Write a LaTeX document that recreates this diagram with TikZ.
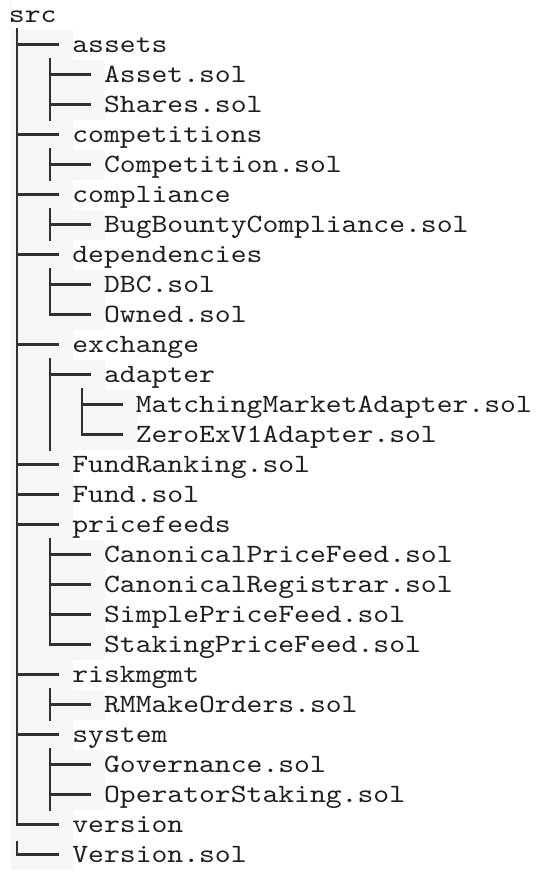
\documentclass[tikz,border=0pt]{standalone}
\usepackage{fontspec}
\newfontfamily\codefont[FakeStretch=1.143]{lmmono10-regular.otf}
\usetikzlibrary{backgrounds}
\definecolor{rowbg}{HTML}{F6F6F6}
\definecolor{ink}{HTML}{1E1E1E}
\definecolor{treeline}{HTML}{303030}
\newlength\entryw
\newcommand\codefnt{\codefont\fontsize{26.4}{30}\selectfont}
% #1 node name, #2 row, #3 x, #4 stem (highlighted), #5 extension
\newcommand\entry[5]{%
  \settowidth{\entryw}{\codefnt #4}%
  \node[entry] (#1) at (#3,{-22-30*#2}) {#4#5};
  \begin{pgfonlayer}{background}
    \fill[rowbg] (11,{-30*#2+0.5}) rectangle ([xshift=\entryw+1pt,yshift=-7.5pt]#1.base west);
  \end{pgfonlayer}%
}
% horizontal branch: #1 node, #2 level
\newcommand\branch[2]{\draw[tree] (#1.west -| v#2) -- (#1.west -| h#2);}
\begin{document}
\begin{tikzpicture}[x=1pt,y=1pt,
  entry/.style={anchor=base west,inner sep=0pt,outer sep=0pt,font=\codefnt,
    text=ink,text height=22.5pt,text depth=7.5pt},
  tree/.style={draw=treeline,line width=2.2pt,line cap=rect}]
\useasboundingbox (0,0) rectangle (550,-876);
\coordinate (v1) at (17,0);  \coordinate (h1) at (58,0);
\coordinate (v2) at (50,0);  \coordinate (h2) at (90,0);
\coordinate (v3) at (82,0);  \coordinate (h3) at (122,0);
\def\xa{9}\def\xb{72.4}\def\xc{104.1}\def\xd{135.8}
\entry{src}{0}{\xa}{src}{}
\entry{assets}{1}{\xb}{assets}{}
\entry{asset}{2}{\xc}{Asset}{.sol}
\entry{shares}{3}{\xc}{Shares}{.sol}
\entry{competitions}{4}{\xb}{competitions}{}
\entry{competition}{5}{\xc}{Competition}{.sol}
\entry{compliance}{6}{\xb}{compliance}{}
\entry{bugbounty}{7}{\xc}{BugBountyCompliance}{.sol}
\entry{dependencies}{8}{\xb}{dependencies}{}
\entry{dbc}{9}{\xc}{DBC}{.sol}
\entry{owned}{10}{\xc}{Owned}{.sol}
\entry{exchange}{11}{\xb}{exchange}{}
\entry{adapter}{12}{\xc}{adapter}{}
\entry{matching}{13}{\xd}{MatchingMarketAdapter}{.sol}
\entry{zeroex}{14}{\xd}{ZeroExV1Adapter}{.sol}
\entry{fundranking}{15}{\xb}{FundRanking}{.sol}
\entry{fund}{16}{\xb}{Fund}{.sol}
\entry{pricefeeds}{17}{\xb}{pricefeeds}{}
\entry{cpf}{18}{\xc}{CanonicalPriceFeed}{.sol}
\entry{creg}{19}{\xc}{CanonicalRegistrar}{.sol}
\entry{spf}{20}{\xc}{SimplePriceFeed}{.sol}
\entry{stpf}{21}{\xc}{StakingPriceFeed}{.sol}
\entry{riskmgmt}{22}{\xb}{riskmgmt}{}
\entry{rmmake}{23}{\xc}{RMMakeOrders}{.sol}
\entry{system}{24}{\xb}{system}{}
\entry{governance}{25}{\xc}{Governance}{.sol}
\entry{opstaking}{26}{\xc}{OperatorStaking}{.sol}
\entry{version}{27}{\xb}{version}{}
\entry{versionsol}{28}{\xb}{Version}{.sol}
% vertical stems
\draw[tree] (assets.north -| v1) -- (version.west -| v1);
\draw[tree] ([yshift=-2.5pt]versionsol.north -| v1) -- (versionsol.west -| v1);
\draw[tree] (asset.north -| v2) -- (shares.south -| v2);
\draw[tree] (competition.north -| v2) -- (competition.south -| v2);
\draw[tree] (bugbounty.north -| v2) -- (bugbounty.south -| v2);
\draw[tree] (dbc.north -| v2) -- (owned.west -| v2);
\draw[tree] (adapter.north -| v2) -- (zeroex.south -| v2);
\draw[tree] (matching.north -| v3) -- (zeroex.west -| v3);
\draw[tree] (cpf.north -| v2) -- (stpf.west -| v2);
\draw[tree] (rmmake.north -| v2) -- (rmmake.south -| v2);
\draw[tree] (governance.north -| v2) -- (opstaking.south -| v2);
% horizontal branches
\branch{assets}{1}\branch{competitions}{1}\branch{compliance}{1}
\branch{dependencies}{1}\branch{exchange}{1}\branch{fundranking}{1}
\branch{fund}{1}\branch{pricefeeds}{1}\branch{riskmgmt}{1}
\branch{system}{1}\branch{version}{1}\branch{versionsol}{1}
\branch{asset}{2}\branch{shares}{2}\branch{competition}{2}
\branch{bugbounty}{2}\branch{dbc}{2}\branch{owned}{2}\branch{adapter}{2}
\branch{cpf}{2}\branch{creg}{2}\branch{spf}{2}\branch{stpf}{2}
\branch{rmmake}{2}\branch{governance}{2}\branch{opstaking}{2}
\branch{matching}{3}\branch{zeroex}{3}
\end{tikzpicture}
\end{document}
